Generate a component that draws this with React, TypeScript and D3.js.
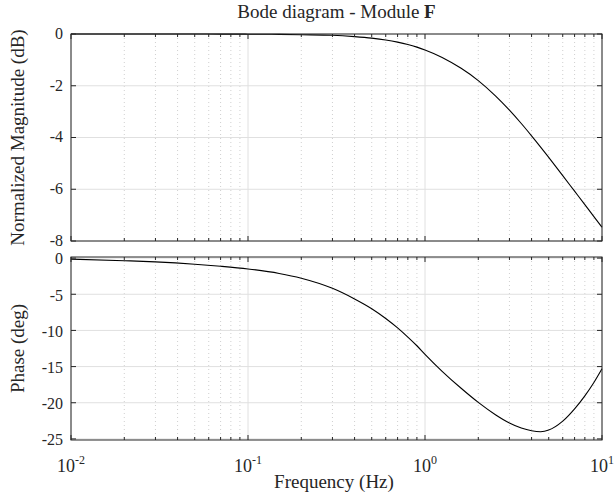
import React, { useEffect, useRef } from 'react';
import * as d3 from 'd3';

// values
const freqHz = [0.01, 0.02, 0.03, 0.05, 0.07, 0.1, 0.15, 0.2, 0.3, 0.4, 0.5, 0.6, 0.7, 0.8, 0.9, 1.0, 1.25, 1.6, 2.0, 2.5, 3.0, 3.5, 4.0, 4.5, 5.0, 6.0, 7.0, 8.0, 9.0, 10];
const magnitudeDb = [0, 0, -0.001, -0.002, -0.004, -0.007, -0.015, -0.028, -0.05, -0.1, -0.158, -0.229, -0.313, -0.406, -0.508, -0.616, -0.906, -1.326, -1.8, -2.39, -2.943, -3.459, -3.935, -4.369, -4.769, -5.472, -6.075, -6.597, -7.056, -7.47];
const phaseDeg = [-0.15, -0.36, -0.53, -0.85, -1.13, -1.5, -2.12, -2.78, -4.18, -5.65, -7.0, -8.35, -9.65, -10.92, -12.12, -13.3, -15.65, -18.0, -19.95, -21.65, -22.8, -23.5, -23.87, -24.0, -23.78, -22.55, -20.85, -19.05, -17.2, -15.3];

const magTicks = [0, -2, -4, -6, -8];
const phaseTicks = [0, -5, -10, -15, -20, -25];
const decadeTicks = [0.01, 0.1, 1, 10];
const decadeExponents = ['-2', '-1', '0', '1'];

const FONT = '"Liberation Serif", "Times New Roman", serif';

const App = () => {
  const svgRef = useRef(null);

  useEffect(() => {
    const width = 614;
    const height = 492;
    const left = 71;
    const right = 602;

    const svg = d3.select(svgRef.current).attr('width', width).attr('height', height);
    svg.selectAll('*').remove();

    const x = d3.scaleLog().domain([0.01, 10]).range([left, right]);

    // minor decade positions 2..9
    const minorTicks = [];
    decadeTicks.slice(0, 3).forEach((d) => {
      for (let k = 2; k <= 9; k++) minorTicks.push(d * k);
    });

    const panels = [
      { top: 34, bottom: 241, domain: [-8, 0], ticks: magTicks, values: magnitudeDb, label: 'Normalized Magnitude (dB)', dy: '0.3em' },
      { top: 257, bottom: 440, domain: [-25.15, 0.15], ticks: phaseTicks, values: phaseDeg, label: 'Phase (deg)', dy: '0.4em' },
    ];

    panels.forEach((p, i) => {
      const y = d3.scaleLinear().domain(p.domain).range([p.bottom, p.top]);
      const g = svg.append('g');

      // grid
      g.selectAll('.minor-grid')
        .data(minorTicks)
        .join('line')
        .attr('x1', (d) => x(d))
        .attr('x2', (d) => x(d))
        .attr('y1', p.top)
        .attr('y2', p.bottom)
        .attr('stroke', '#c4c4c4')
        .attr('stroke-width', 0.8)
        .attr('stroke-dasharray', '1,3');

      g.selectAll('.major-xgrid')
        .data(decadeTicks)
        .join('line')
        .attr('x1', (d) => x(d))
        .attr('x2', (d) => x(d))
        .attr('y1', p.top)
        .attr('y2', p.bottom)
        .attr('stroke', '#e0e0e0')
        .attr('stroke-width', 1);

      g.selectAll('.major-ygrid')
        .data(p.ticks)
        .join('line')
        .attr('x1', left)
        .attr('x2', right)
        .attr('y1', (d) => y(d))
        .attr('y2', (d) => y(d))
        .attr('stroke', '#e0e0e0')
        .attr('stroke-width', 1);

      // curve
      const line = d3
        .line()
        .x((d) => x(d[0]))
        .y((d) => y(d[1]))
        .curve(d3.curveMonotoneX);

      g.append('path')
        .datum(freqHz.map((f, j) => [f, p.values[j]]))
        .attr('d', line)
        .attr('fill', 'none')
        .attr('stroke', '#000')
        .attr('stroke-width', 1.1);

      // inward ticks on all four sides
      const tickColor = '#262626';
      [p.top, p.bottom].forEach((yy, side) => {
        const dir = side === 0 ? 1 : -1;
        g.selectAll(null)
          .data(decadeTicks)
          .join('line')
          .attr('x1', (d) => x(d))
          .attr('x2', (d) => x(d))
          .attr('y1', yy)
          .attr('y2', yy + dir * 5)
          .attr('stroke', tickColor);
        g.selectAll(null)
          .data(minorTicks)
          .join('line')
          .attr('x1', (d) => x(d))
          .attr('x2', (d) => x(d))
          .attr('y1', yy)
          .attr('y2', yy + dir * 3)
          .attr('stroke', tickColor);
      });
      [left, right].forEach((xx, side) => {
        const dir = side === 0 ? 1 : -1;
        g.selectAll(null)
          .data(p.ticks)
          .join('line')
          .attr('x1', xx)
          .attr('x2', xx + dir * 5)
          .attr('y1', (d) => y(d))
          .attr('y2', (d) => y(d))
          .attr('stroke', tickColor);
      });

      // box
      g.append('rect')
        .attr('x', left)
        .attr('y', p.top)
        .attr('width', right - left)
        .attr('height', p.bottom - p.top)
        .attr('fill', 'none')
        .attr('stroke', tickColor)
        .attr('stroke-width', 1);

      // y tick labels
      g.selectAll(null)
        .data(p.ticks)
        .join('text')
        .attr('x', left - 8)
        .attr('y', (d) => y(d))
        .attr('dy', p.dy)
        .attr('text-anchor', 'end')
        .attr('font-family', FONT)
        .attr('font-size', 16)
        .attr('fill', '#262626')
        .text((d) => `${d}`);

      // y label
      g.append('text')
        .attr('transform', `translate(24, ${(p.top + p.bottom) / 2}) rotate(-90)`)
        .attr('text-anchor', 'middle')
        .attr('font-family', FONT)
        .attr('font-size', 19)
        .attr('fill', '#262626')
        .text(p.label);

      if (i === 1) {
        // x tick labels like 10^-2
        const lbl = g.selectAll(null)
          .data(decadeTicks)
          .join('text')
          .attr('x', (d) => x(d))
          .attr('y', 472)
          .attr('text-anchor', 'middle')
          .attr('font-family', FONT)
          .attr('font-size', 18)
          .attr('fill', '#262626');
        lbl.append('tspan').text('10');
        lbl.append('tspan')
          .attr('dy', -8)
          .attr('font-size', 12)
          .text((d, j) => decadeExponents[j]);
      }
    });

    // title
    const title = svg.append('text')
      .attr('x', (left + right) / 2)
      .attr('y', 18)
      .attr('text-anchor', 'middle')
      .attr('font-family', FONT)
      .attr('font-size', 19)
      .attr('fill', '#262626');
    title.append('tspan').text('Bode diagram - Module ');
    title.append('tspan').attr('font-weight', 'bold').text('F');

    // x label
    svg.append('text')
      .attr('x', 334)
      .attr('y', 488)
      .attr('text-anchor', 'middle')
      .attr('font-family', FONT)
      .attr('font-size', 19)
      .attr('fill', '#262626')
      .text('Frequency (Hz)');
  }, []);

  return <svg ref={svgRef} style={{ position: 'absolute', left: 0, top: 0, display: 'block' }}></svg>;
};

export default App;
